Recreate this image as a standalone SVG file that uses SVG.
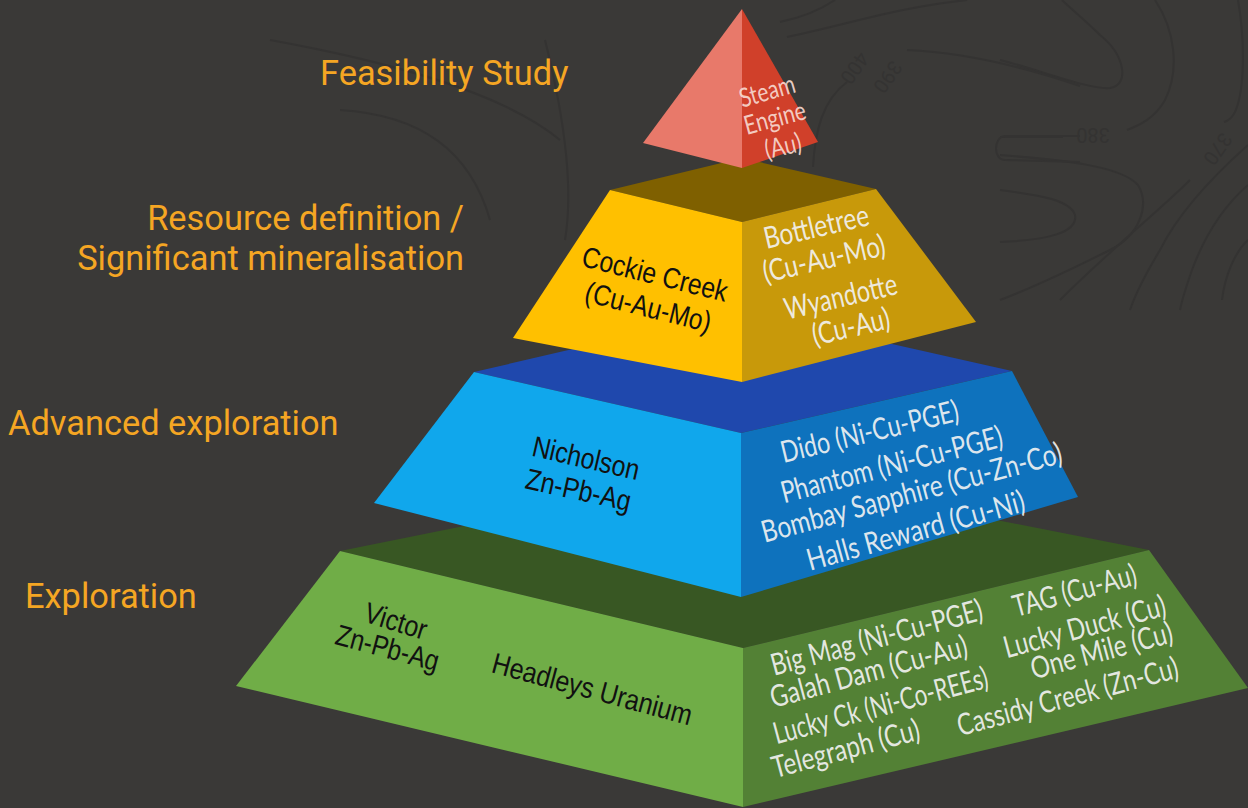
<svg xmlns="http://www.w3.org/2000/svg" width="1248" height="808" viewBox="0 0 1248 808">
<style>
.bg{fill:#3a3937}
.ct{fill:none;stroke:#343332;stroke-width:2}
.cl{font-family:Roboto,"Liberation Sans",sans-serif;font-size:20px;fill:#343332;text-anchor:middle}
.stage{font-family:Roboto,"Liberation Sans",sans-serif;font-size:34.4px;fill:#f5a623}
.blk{font-family:"Liberation Sans",Arial,sans-serif;font-size:26px;fill:#111111;text-anchor:middle}
.wht{font-family:Lato,"Open Sans",sans-serif;font-size:27px;fill:#f2f2f2;fill-opacity:0.92;text-anchor:middle}
</style>
<rect class="bg" x="0" y="0" width="1248" height="808"/>
<g id="contours">
<path class="ct" d="M1000,60 C1040,70 1090,90 1110,88 C1130,85 1125,55 1100,35 C1085,20 1070,8 1062,0"/>
<path class="ct" d="M1155,0 C1175,30 1180,70 1165,100 C1155,118 1140,125 1127,130"/>
<path class="ct" d="M1063,137 L1000,137"/>
<path class="ct" d="M1000,155 C1060,160 1120,165 1138,185 C1150,205 1140,235 1110,250 C1080,265 1040,285 1000,300"/>
<path class="ct" d="M1000,190 C1040,195 1070,200 1075,215 C1078,232 1050,240 1000,242"/>
<path class="ct" d="M1238,0 C1245,40 1245,90 1235,112 C1232,118 1228,121 1224,122"/>
<path class="ct" d="M1190,180 C1160,210 1110,250 1060,300"/>
<path class="ct" d="M1248,145 C1220,170 1180,210 1160,250 C1145,275 1135,295 1130,310"/>
<path class="ct" d="M1248,185 C1225,205 1205,235 1192,270 C1185,290 1182,300 1180,310"/>
<path class="ct" d="M1248,240 C1235,252 1225,275 1222,300"/>
<path class="ct" d="M907,50 C950,52 1010,62 1080,86"/>
<path class="ct" d="M787,37 C820,30 850,22 880,15 C910,8 940,3 967,0"/>
<path class="ct" d="M780,22 C800,18 820,10 835,0"/>
<path class="ct" d="M1080,136 L1005,136 C993,137 993,160 1005,160 L1080,162"/>
<path class="ct" d="M813,167 C815,130 823,100 847,82"/>
<path class="ct" d="M270,40 C380,60 500,90 560,140"/>
<path class="ct" d="M545,40 C560,100 575,180 565,240"/>
<path class="ct" d="M340,110 C420,115 470,150 490,220"/>
<text class="cl" transform="translate(1093,128) rotate(180)">380</text>
<text class="cl" transform="translate(1212,145) rotate(125)">370</text>
<text class="cl" transform="translate(849,64) rotate(125)">400</text>
<text class="cl" transform="translate(882,73) rotate(125)">390</text>
</g>
<g id="stage-labels">
<text class="stage" x="320" y="85">Feasibility Study</text>
<text class="stage" x="464" y="230" text-anchor="end">Resource definition /</text>
<text class="stage" x="464" y="270" text-anchor="end">Significant mineralisation</text>
<text class="stage" x="8" y="435">Advanced exploration</text>
<text class="stage" x="25" y="608">Exploration</text>
</g>
<g id="tier-exploration">
<polygon points="340,551 743,470 1149,550 743,648" fill="#385723"/>
<polygon points="340,551 743,648 743,807 236,686" fill="#70ad47"/>
<polygon points="743,648 1149,550 1248,688 743,807" fill="#538135"/>
<text class="blk" transform="translate(396,621) rotate(17) scale(1,1.12)" y="9" textLength="64" lengthAdjust="spacingAndGlyphs">Victor</text>
<text class="blk" transform="translate(387,650) rotate(15) scale(1,1.12)" y="7" textLength="106" lengthAdjust="spacingAndGlyphs">Zn-Pb-Ag</text>
<text class="blk" transform="translate(592,690) rotate(15) scale(1,1.12)" y="8" textLength="206" lengthAdjust="spacingAndGlyphs">Headleys Uranium</text>
<text class="wht" transform="translate(877,639) rotate(-15) scale(1,1.12)" y="8" textLength="218" lengthAdjust="spacingAndGlyphs">Big Mag (Ni-Cu-PGE)</text>
<text class="wht" transform="translate(869,673) rotate(-15) scale(1,1.12)" y="8" textLength="203" lengthAdjust="spacingAndGlyphs">Galah Dam (Cu-Au)</text>
<text class="wht" transform="translate(881,707) rotate(-15) scale(1,1.12)" y="8" textLength="221" lengthAdjust="spacingAndGlyphs">Lucky Ck (Ni-Co-REEs)</text>
<text class="wht" transform="translate(846,750) rotate(-15) scale(1,1.12)" y="8" textLength="152" lengthAdjust="spacingAndGlyphs">Telegraph (Cu)</text>
<text class="wht" transform="translate(1075,592) rotate(-15) scale(1,1.12)" y="8" textLength="127" lengthAdjust="spacingAndGlyphs">TAG (Cu-Au)</text>
<text class="wht" transform="translate(1085,628) rotate(-15) scale(1,1.12)" y="8" textLength="167" lengthAdjust="spacingAndGlyphs">Lucky Duck (Cu)</text>
<text class="wht" transform="translate(1102,652) rotate(-15) scale(1,1.12)" y="8" textLength="146" lengthAdjust="spacingAndGlyphs">One Mile (Cu)</text>
<text class="wht" transform="translate(1068,698) rotate(-15) scale(1,1.12)" y="8" textLength="228" lengthAdjust="spacingAndGlyphs">Cassidy Creek (Zn-Cu)</text>
</g>
<g id="tier-advanced">
<polygon points="474,372 741,310 1012,371 741,433" fill="#1f48ad"/>
<polygon points="474,372 741,433 741,597 374,503" fill="#10a7ec"/>
<polygon points="741,433 1012,371 1078,497 741,597" fill="#0e72bd"/>
<text class="blk" transform="translate(586,458) rotate(13) scale(1,1.12)" y="9" textLength="109" lengthAdjust="spacingAndGlyphs">Nicholson</text>
<text class="blk" transform="translate(578,492) rotate(12.5) scale(1,1.12)" y="7" textLength="107" lengthAdjust="spacingAndGlyphs">Zn-Pb-Ag</text>
<text class="wht" transform="translate(870,433) rotate(-13.5) scale(1,1.12)" y="8" textLength="182" lengthAdjust="spacingAndGlyphs">Dido (Ni-Cu-PGE)</text>
<text class="wht" transform="translate(892,466) rotate(-14.5) scale(1,1.12)" y="8" textLength="228" lengthAdjust="spacingAndGlyphs">Phantom (Ni-Cu-PGE)</text>
<text class="wht" transform="translate(912,494) rotate(-15) scale(1,1.12)" y="8" textLength="310" lengthAdjust="spacingAndGlyphs">Bombay Sapphire (Cu-Zn-Co)</text>
<text class="wht" transform="translate(916,532) rotate(-15.5) scale(1,1.12)" y="8" textLength="225" lengthAdjust="spacingAndGlyphs">Halls Reward (Cu-Ni)</text>
</g>
<g id="tier-resource">
<polygon points="610,190 742,158 876,189 742,222" fill="#7f6000"/>
<polygon points="610,190 742,222 742,382 513,338" fill="#ffc000"/>
<polygon points="742,222 876,189 976,322 742,382" fill="#c8990a"/>
<text class="blk" transform="translate(655,274) rotate(14) scale(1,1.12)" y="9" textLength="149" lengthAdjust="spacingAndGlyphs">Cockie Creek</text>
<text class="blk" transform="translate(648,308) rotate(14) scale(1,1.12)" y="8" textLength="129" lengthAdjust="spacingAndGlyphs">(Cu-Au-Mo)</text>
<text class="wht" transform="translate(816,226) rotate(-13) scale(1,1.12)" y="10" textLength="107" lengthAdjust="spacingAndGlyphs">Bottletree</text>
<text class="wht" transform="translate(824,259) rotate(-13) scale(1,1.12)" y="9" textLength="125" lengthAdjust="spacingAndGlyphs">(Cu-Au-Mo)</text>
<text class="wht" transform="translate(841,298) rotate(-13) scale(1,1.12)" y="8" textLength="115" lengthAdjust="spacingAndGlyphs">Wyandotte</text>
<text class="wht" transform="translate(851,327) rotate(-13) scale(1,1.12)" y="9" textLength="79" lengthAdjust="spacingAndGlyphs">(Cu-Au)</text>
</g>
<g id="tier-feasibility">
<polygon points="742,9 643,143 742,168" fill="#e8796a"/>
<polygon points="742,9 742,168 818,142" fill="#d0402a"/>
<text class="wht" style="font-size:23px;fill:#f7d9d0" transform="translate(767,91) rotate(-16) scale(1,1.15)" y="8" textLength="57" lengthAdjust="spacingAndGlyphs">Steam</text>
<text class="wht" style="font-size:23px;fill:#f7d9d0" transform="translate(775,119) rotate(-15) scale(1,1.15)" y="7" textLength="63" lengthAdjust="spacingAndGlyphs">Engine</text>
<text class="wht" style="font-size:23px;fill:#f7d9d0" transform="translate(783,146) rotate(-13) scale(1,1.15)" y="8" textLength="37" lengthAdjust="spacingAndGlyphs">(Au)</text>
</g>
</svg>
